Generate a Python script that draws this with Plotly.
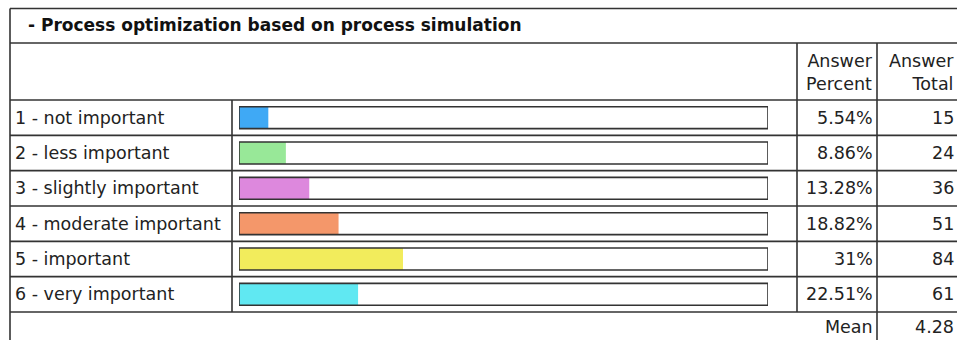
import plotly.graph_objects as go

W, H = 957, 340

title = "- Process optimization based on process simulation"
categories = ["1 - not important", "2 - less important", "3 - slightly important",
              "4 - moderate important", "5 - important", "6 - very important"]
percents = [5.54, 8.86, 13.28, 18.82, 31, 22.51]
totals = [15, 24, 36, 51, 84, 61]
mean_value = 4.28
colors = ["#3fa9f5", "#98e898", "#dd88dd", "#f4976a", "#f2ec5c", "#60e8f2"]
header_percent = "Answer<br>Percent"
header_total = "Answer<br>Total"

FONT = "DejaVu Sans"
FS = 17.5
LINE = "#333333"

def px(x):
    return x / W

def py(y):
    return 1 - y / H

row_top, row_bot = 100, 312
fig = go.Figure()

fig.add_trace(go.Bar(
    y=categories, x=percents, orientation="h",
    marker=dict(color=colors, line=dict(width=0)),
    width=0.62, hoverinfo="skip", showlegend=False,
))
fig.add_trace(go.Bar(
    y=categories, x=[100] * len(categories), orientation="h",
    marker=dict(color="rgba(0,0,0,0)", line=dict(color=LINE, width=1.6)),
    width=0.62, hoverinfo="skip", showlegend=False,
))

shapes = []
def hline(y, x0=10, x1=W + 5):
    shapes.append(dict(type="line", xref="paper", yref="paper",
                       x0=px(x0), x1=px(x1), y0=py(y), y1=py(y),
                       line=dict(color=LINE, width=1.6)))
def vline(x, y0, y1):
    shapes.append(dict(type="line", xref="paper", yref="paper",
                       x0=px(x), x1=px(x), y0=py(y0), y1=py(y1),
                       line=dict(color=LINE, width=1.6)))

n = len(categories)
rh = (row_bot - row_top) / n
hline(8.5)
hline(43)
for i in range(n + 1):
    hline(row_top + i * rh)
vline(10, 8.5, H + 5)
vline(232, row_top, row_bot)
vline(797, 43, row_bot)
vline(877, 43, H + 5)

ann = []
ann.append(dict(text="<b>" + title + "</b>", xref="paper", yref="paper",
                x=px(26), y=py(25.5), xanchor="left", yanchor="middle",
                showarrow=False, font=dict(family=FONT, size=17, color="#111")))
ann.append(dict(text=header_percent, xref="paper", yref="paper", x=px(875), y=py(72),
                xanchor="right", yanchor="middle", align="right", showarrow=False,
                font=dict(family=FONT, size=FS, color="#222")))
ann.append(dict(text=header_total, xref="paper", yref="paper", x=px(956), y=py(72),
                xanchor="right", yanchor="middle", align="right", showarrow=False,
                font=dict(family=FONT, size=FS, color="#222")))
for c, p, t in zip(categories, percents, totals):
    ann.append(dict(text=c, xref="paper", yref="y", x=px(13), y=c, xanchor="left",
                    yanchor="middle", showarrow=False,
                    font=dict(family=FONT, size=FS, color="#222")))
    ann.append(dict(text=f"{p:g}%", xref="paper", yref="y", x=px(875), y=c,
                    xanchor="right", yanchor="middle", showarrow=False,
                    font=dict(family=FONT, size=FS, color="#222")))
    ann.append(dict(text=str(t), xref="paper", yref="y", x=px(956), y=c,
                    xanchor="right", yanchor="middle", showarrow=False,
                    font=dict(family=FONT, size=FS, color="#222")))
ann.append(dict(text="Mean", xref="paper", yref="paper", x=px(875), y=py(327),
                xanchor="right", yanchor="middle", showarrow=False,
                font=dict(family=FONT, size=FS, color="#222")))
ann.append(dict(text=f"{mean_value:g}", xref="paper", yref="paper", x=px(956), y=py(327),
                xanchor="right", yanchor="middle", showarrow=False,
                font=dict(family=FONT, size=FS, color="#222")))

fig.update_layout(
    width=W, height=H, margin=dict(l=0, r=0, t=0, b=0),
    paper_bgcolor="white", plot_bgcolor="rgba(0,0,0,0)",
    barmode="overlay", shapes=shapes, annotations=ann,
    xaxis=dict(domain=[px(239), px(768)], range=[0, 100], visible=False, fixedrange=True),
    yaxis=dict(domain=[py(row_bot), py(row_top)], type="category",
               categoryorder="array", categoryarray=categories,
               range=[n - 0.5, -0.5], visible=False, fixedrange=True),
)

fig.write_html(
    "out.html",
    config={"displayModeBar": False},
    post_script="document.body.style.margin='0';document.body.style.overflow='hidden';",
)
